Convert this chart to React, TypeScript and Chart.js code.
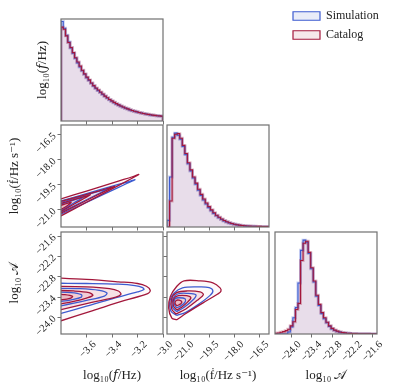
import { useEffect, useRef } from "react";
import { Chart, registerables } from "chart.js";
Chart.register(...registerables);

// ---------------- data ----------------
const fRange = [-3.8, -3.0];
const fdotRange = [-22.03, -15.92];
const ampRange = [-24.49, -21.48];

const fTicks = [-3.6, -3.4, -3.2, -3.0];
const fdotTicks = [-21.0, -19.5, -18.0, -16.5];
const ampTicks = [-24.0, -23.4, -22.8, -22.2, -21.6];

const seriesNames = ["Simulation", "Catalog"];
const axisLabels = ["log₁₀(𝑓/Hz)", "log₁₀(ḟ/Hz s⁻¹)", "log₁₀ 𝒜"];

// normalised histogram heights (fraction of panel height)
const fHistSimulation = [0.975, 0.91, 0.84, 0.775, 0.715, 0.665, 0.615, 0.57, 0.53, 0.492, 0.458, 0.425, 0.397, 0.37, 0.343, 0.318, 0.298, 0.28, 0.26, 0.242, 0.225, 0.208, 0.194, 0.18, 0.167, 0.156, 0.145, 0.135, 0.126, 0.117, 0.109, 0.101, 0.095, 0.089, 0.083, 0.078, 0.073, 0.068, 0.064, 0.06, 0.057, 0.054, 0.051, 0.049, 0.047];
const fHistCatalog = [0.92, 0.9, 0.835, 0.77, 0.72, 0.67, 0.62, 0.578, 0.538, 0.498, 0.462, 0.43, 0.403, 0.373, 0.347, 0.323, 0.304, 0.284, 0.264, 0.244, 0.228, 0.211, 0.197, 0.183, 0.17, 0.158, 0.147, 0.137, 0.128, 0.119, 0.111, 0.103, 0.096, 0.09, 0.084, 0.079, 0.074, 0.069, 0.065, 0.061, 0.058, 0.055, 0.052, 0.05, 0.048];

const fdotHistSimulation = [0.065, 0.49, 0.88, 0.92, 0.9, 0.86, 0.79, 0.71, 0.62, 0.55, 0.48, 0.42, 0.36, 0.31, 0.265, 0.225, 0.19, 0.16, 0.133, 0.11, 0.09, 0.074, 0.06, 0.049, 0.04, 0.032, 0.026, 0.021, 0.017, 0.014, 0.011, 0.009, 0.008, 0.007, 0.006, 0.005, 0.005, 0.004, 0.004, 0.003];
const fdotHistCatalog = [0.0, 0.255, 0.87, 0.91, 0.915, 0.87, 0.8, 0.72, 0.63, 0.56, 0.49, 0.43, 0.37, 0.32, 0.275, 0.235, 0.2, 0.168, 0.14, 0.115, 0.095, 0.078, 0.064, 0.052, 0.042, 0.034, 0.027, 0.022, 0.018, 0.015, 0.012, 0.01, 0.009, 0.008, 0.007, 0.006, 0.006, 0.005, 0.005, 0.004];

const ampHistSimulation = [0.0, 0.0, 0.0, 0.0, 0.0, 0.02, 0.07, 0.16, 0.26, 0.5, 0.82, 0.92, 0.9, 0.79, 0.64, 0.51, 0.37, 0.28, 0.2, 0.15, 0.11, 0.075, 0.05, 0.035, 0.025, 0.018, 0.013, 0.01, 0.008, 0.006, 0.005, 0.004, 0.003, 0.003, 0.002, 0.002, 0.002, 0.001, 0.001, 0.001];
const ampHistCatalog = [0.007, 0.01, 0.017, 0.023, 0.033, 0.046, 0.08, 0.12, 0.24, 0.3, 0.72, 0.89, 0.91, 0.8, 0.65, 0.52, 0.38, 0.29, 0.21, 0.16, 0.115, 0.08, 0.055, 0.038, 0.028, 0.02, 0.015, 0.011, 0.008, 0.006, 0.005, 0.004, 0.003, 0.003, 0.002, 0.002, 0.002, 0.001, 0.001, 0.001];

type Pt = [number, number];

// contour levels, outer to inner: [log10 f, log10 fdot]
const fFdotCatalog: Pt[][] = [
  [[-3.9, -20.59], [-3.7, -20.11], [-3.5, -19.64], [-3.35, -19.28], [-3.24, -19.02], [-3.19, -18.88], [-3.25, -19.14], [-3.4, -19.75], [-3.6, -20.55], [-3.8, -21.36], [-3.9, -21.75]],
  [[-3.9, -20.71], [-3.7, -20.28], [-3.5, -19.86], [-3.41, -19.66], [-3.38, -19.6], [-3.43, -19.79], [-3.6, -20.44], [-3.8, -21.2], [-3.9, -21.58]],
  [[-3.9, -20.85], [-3.7, -20.39], [-3.6, -20.17], [-3.57, -20.1], [-3.62, -20.32], [-3.7, -20.67], [-3.8, -21.1], [-3.9, -21.54]],
  [[-3.9, -20.95], [-3.8, -20.73], [-3.72, -20.55], [-3.8, -20.98], [-3.9, -21.2]],
];
const fFdotSimulation: Pt[][] = [
  [[-3.9, -20.69], [-3.7, -20.25], [-3.5, -19.81], [-3.35, -19.48], [-3.26, -19.29], [-3.22, -19.2], [-3.28, -19.41], [-3.45, -20.02], [-3.65, -20.73], [-3.8, -21.26], [-3.9, -21.61]],
  [[-3.9, -20.77], [-3.7, -20.33], [-3.5, -19.88], [-3.44, -19.75], [-3.41, -19.68], [-3.46, -19.87], [-3.6, -20.4], [-3.8, -21.15], [-3.9, -21.53]],
  [[-3.9, -20.9], [-3.7, -20.42], [-3.62, -20.22], [-3.7, -20.59], [-3.8, -21.06], [-3.9, -21.5]],
];

// [log10 f, log10 A]
const fAmpCatalog: Pt[][] = [
  [[-3.9, -22.82], [-3.6, -22.88], [-3.35, -22.95], [-3.2, -23.0], [-3.13, -23.08], [-3.1, -23.2], [-3.12, -23.3], [-3.3, -23.5], [-3.55, -23.8], [-3.8, -24.1], [-3.9, -24.22]],
  [[-3.9, -23.08], [-3.6, -23.1], [-3.42, -23.15], [-3.35, -23.22], [-3.33, -23.32], [-3.37, -23.4], [-3.55, -23.55], [-3.8, -23.77], [-3.9, -23.85]],
  [[-3.9, -23.2], [-3.7, -23.22], [-3.58, -23.27], [-3.55, -23.35], [-3.6, -23.43], [-3.7, -23.53], [-3.8, -23.6], [-3.9, -23.66]],
  [[-3.9, -23.3], [-3.77, -23.33], [-3.71, -23.38], [-3.73, -23.44], [-3.8, -23.48], [-3.9, -23.51]],
];
const fAmpSimulation: Pt[][] = [
  [[-3.9, -22.99], [-3.6, -23.0], [-3.35, -23.02], [-3.22, -23.06], [-3.16, -23.12], [-3.15, -23.18], [-3.2, -23.25], [-3.4, -23.45], [-3.6, -23.67], [-3.8, -23.88], [-3.9, -23.98]],
  [[-3.9, -23.14], [-3.65, -23.15], [-3.5, -23.2], [-3.44, -23.28], [-3.46, -23.37], [-3.6, -23.5], [-3.8, -23.66], [-3.9, -23.73]],
  [[-3.9, -23.25], [-3.72, -23.27], [-3.64, -23.33], [-3.64, -23.4], [-3.72, -23.48], [-3.8, -23.53], [-3.9, -23.58]],
];

// [log10 fdot, log10 A]
const fdotAmpCatalog: Pt[][] = [
  [[-21.44, -24.07], [-21.74, -24.02], [-21.93, -23.72], [-21.83, -23.38], [-21.44, -23.08], [-21.01, -22.92], [-20.07, -22.92], [-19.28, -22.98], [-18.85, -23.13], [-18.8, -23.23], [-18.99, -23.31], [-19.87, -23.57], [-20.85, -23.87], [-21.44, -24.07]],
  [[-21.5, -23.9], [-21.75, -23.75], [-21.75, -23.45], [-21.45, -23.27], [-20.8, -23.22], [-20.05, -23.25], [-19.85, -23.33], [-20.15, -23.47], [-20.9, -23.75], [-21.5, -23.9]],
  [[-21.45, -23.78], [-21.65, -23.65], [-21.62, -23.45], [-21.35, -23.36], [-20.85, -23.36], [-20.6, -23.42], [-20.8, -23.55], [-21.15, -23.7], [-21.45, -23.78]],
  [[-21.45, -23.66], [-21.55, -23.58], [-21.48, -23.5], [-21.3, -23.49], [-21.15, -23.53], [-21.2, -23.6], [-21.45, -23.66]],
];
const fdotAmpSimulation: Pt[][] = [
  [[-21.44, -23.94], [-21.79, -23.82], [-21.85, -23.5], [-21.6, -23.28], [-21.1, -23.13], [-20.2, -23.1], [-19.5, -23.12], [-19.28, -23.22], [-19.45, -23.35], [-20.1, -23.6], [-20.9, -23.85], [-21.44, -23.94]],
  [[-21.45, -23.83], [-21.7, -23.7], [-21.68, -23.45], [-21.4, -23.31], [-20.8, -23.29], [-20.3, -23.33], [-20.4, -23.45], [-21.0, -23.7], [-21.45, -23.83]],
  [[-21.45, -23.72], [-21.6, -23.6], [-21.55, -23.45], [-21.3, -23.42], [-20.95, -23.45], [-20.95, -23.55], [-21.2, -23.66], [-21.45, -23.72]],
];

// ---------------- style ----------------
const W = 396;
const H = 387;
const SIZE = 102;
const colLeft = [61, 167, 275];
const rowTop = [19, 125, 232];
const BLUE = "#3d5bd0";
const RED = "#a3173b";
const FONT = "'Liberation Serif', 'DejaVu Serif', serif";
const FRAME = "#707070";
const TITLE_SIZE = 13;

const fmt = (v: number) => (v < 0 ? "\u2212" : "") + Math.abs(v).toFixed(1);

function stepPoints(values: number[], range: number[]) {
  const [lo, hi] = range;
  const w = (hi - lo) / values.length;
  const pts = [{ x: lo, y: 0 }];
  values.forEach((v, i) => pts.push({ x: lo + i * w, y: v }));
  pts.push({ x: hi, y: values[values.length - 1] });
  pts.push({ x: hi, y: 0 });
  return pts;
}

function histDatasets(sim: number[], cat: number[], range: number[]) {
  const s = stepPoints(sim, range);
  const c = stepPoints(cat, range);
  const base = { showLine: true, stepped: true, pointRadius: 0, tension: 0 };
  return [
    { ...base, data: c, borderColor: RED, borderWidth: 1.1, fill: false },
    { ...base, data: s, borderColor: BLUE, borderWidth: 1.1, fill: false },
    { ...base, data: c, borderColor: "rgba(163,23,59,0.28)", borderWidth: 3, fill: "origin", backgroundColor: "rgba(163,23,59,0.09)" },
    { ...base, data: s, borderColor: "rgba(61,91,208,0.28)", borderWidth: 3, fill: "origin", backgroundColor: "rgba(61,91,208,0.09)" },
  ];
}

function contourDatasets(cat: Pt[][], sim: Pt[][]) {
  const toXY = (c: Pt[]) => c.map(([x, y]) => ({ x, y }));
  const base = { showLine: true, pointRadius: 0, tension: 0.35 };
  return [
    ...cat.map((c) => ({ ...base, data: toXY(c), borderColor: RED, borderWidth: 1.3, fill: false })),
    ...sim.map((c) => ({ ...base, data: toXY(c), borderColor: BLUE, borderWidth: 1.3, fill: false })),
    ...cat.map((c, i) => ({
      ...base,
      data: toXY(c),
      borderColor: "transparent",
      borderWidth: 1,
      fill: "shape",
      backgroundColor: i === 0 ? "rgba(200,70,100,0.04)" : "rgba(200,70,100,0.13)",
    })),
  ];
}

const framePlugin = {
  id: "frame",
  afterDatasetsDraw(chart: any) {
    const { ctx, chartArea: a } = chart;
    ctx.save();
    ctx.strokeStyle = FRAME;
    ctx.lineWidth = 1.2;
    ctx.strokeRect(a.left, a.top, a.right - a.left, a.bottom - a.top);
    ctx.restore();
  },
};

type PanelSpec = {
  row: number;
  col: number;
  xRange: number[];
  yRange: number[];
  xTicks: number[];
  yTicks: number[];
  yMode: "none" | "title" | "labels" | "marks";
  yTitleX?: number;
  datasets: any[];
};

function panelConfig(p: PanelSpec): any {
  const L = colLeft[p.col];
  const T = rowTop[p.row];
  const R = L + SIZE;
  const B = T + SIZE;
  const bottomRow = p.row === 2;
  const xH = bottomRow ? H - B : 4;
  const yW = p.yMode === "labels" || p.yMode === "title" ? 54 : p.yMode === "marks" ? 4 : 0;
  const tickFont = { family: FONT, size: 10.5 };
  const titleFont = { family: FONT, size: TITLE_SIZE };
  const half = (TITLE_SIZE * 1.2) / 2;
  const gridOpts = { display: true, drawOnChartArea: false, drawTicks: true, tickLength: 3.5, color: FRAME, lineWidth: 1 };
  return {
    type: "scatter",
    data: { datasets: p.datasets },
    plugins: [framePlugin],
    options: {
      responsive: false,
      animation: false,
      events: [],
      layout: { autoPadding: false, padding: { left: L - yW, top: T, right: W - R, bottom: H - B - xH } },
      plugins: { legend: { display: false }, tooltip: { enabled: false } },
      scales: {
        x: {
          type: "linear",
          position: "bottom",
          min: p.xRange[0],
          max: p.xRange[1],
          afterFit: (s: any) => { s.height = xH; },
          afterBuildTicks: (s: any) => { s.ticks = p.xTicks.map((v) => ({ value: v })); },
          grid: gridOpts,
          border: { display: false },
          ticks: {
            display: bottomRow,
            autoSkip: false,
            minRotation: 45,
            maxRotation: 45,
            padding: 1,
            labelOffset: 8,
            font: tickFont,
            color: "#222",
            callback: (v: number) => fmt(v),
          },
          title: {
            display: bottomRow,
            text: axisLabels[p.col],
            font: titleFont,
            color: "#222",
            padding: { top: 0, bottom: 11 - half },
          },
        },
        y: {
          type: "linear",
          position: "left",
          display: p.yMode !== "none",
          min: p.yRange[0],
          max: p.yRange[1],
          afterFit: (s: any) => { s.width = yW; },
          afterBuildTicks: (s: any) => { s.ticks = p.yTicks.map((v) => ({ value: v })); },
          grid: p.yMode === "title" ? { display: false } : gridOpts,
          border: { display: false },
          ticks: {
            display: p.yMode === "labels",
            autoSkip: false,
            minRotation: 45,
            maxRotation: 45,
            padding: 3,
            font: tickFont,
            color: "#222",
            callback: (v: number) => fmt(v),
          },
          title: {
            display: p.yMode === "labels" || p.yMode === "title",
            text: axisLabels[p.row],
            font: titleFont,
            color: "#222",
            padding: { top: (p.yTitleX ?? 15) - (L - yW) - half, bottom: 0 },
          },
        },
      },
    },
  };
}

const panels: PanelSpec[] = [
  { row: 0, col: 0, xRange: fRange, yRange: [0, 1], xTicks: fTicks, yTicks: [], yMode: "title", yTitleX: 43, datasets: histDatasets(fHistSimulation, fHistCatalog, fRange) },
  { row: 1, col: 0, xRange: fRange, yRange: fdotRange, xTicks: fTicks, yTicks: fdotTicks, yMode: "labels", yTitleX: 15, datasets: contourDatasets(fFdotCatalog, fFdotSimulation) },
  { row: 1, col: 1, xRange: fdotRange, yRange: [0, 1], xTicks: fdotTicks, yTicks: [], yMode: "none", datasets: histDatasets(fdotHistSimulation, fdotHistCatalog, fdotRange) },
  { row: 2, col: 0, xRange: fRange, yRange: ampRange, xTicks: fTicks, yTicks: ampTicks, yMode: "labels", yTitleX: 15, datasets: contourDatasets(fAmpCatalog, fAmpSimulation) },
  { row: 2, col: 1, xRange: fdotRange, yRange: ampRange, xTicks: fdotTicks, yTicks: ampTicks, yMode: "marks", datasets: contourDatasets(fdotAmpCatalog, fdotAmpSimulation) },
  { row: 2, col: 2, xRange: ampRange, yRange: [0, 1], xTicks: ampTicks, yTicks: [], yMode: "none", datasets: histDatasets(ampHistSimulation, ampHistCatalog, ampRange) },
];

function legendConfig(): any {
  return {
    type: "line",
    data: {
      labels: [],
      datasets: [
        { label: seriesNames[0], data: [], backgroundColor: "#e9ecf8", borderColor: BLUE, borderWidth: 1.2 },
        { label: seriesNames[1], data: [], backgroundColor: "#f6e7ea", borderColor: RED, borderWidth: 1.2 },
      ],
    },
    options: {
      responsive: false,
      animation: false,
      events: [],
      scales: { x: { display: false }, y: { display: false } },
      plugins: {
        tooltip: { enabled: false },
        legend: {
          position: "top",
          align: "start",
          labels: { boxWidth: 27, boxHeight: 8.5, padding: 7, font: { family: FONT, size: 12 }, color: "#222" },
        },
      },
    },
  };
}

export default function App() {
  const refs = useRef<(HTMLCanvasElement | null)[]>([]);
  const legendRef = useRef<HTMLCanvasElement | null>(null);
  useEffect(() => {
    const charts: Chart[] = [];
    panels.forEach((p, i) => {
      const c = refs.current[i];
      if (c) charts.push(new Chart(c, panelConfig(p)));
    });
    if (legendRef.current) charts.push(new Chart(legendRef.current, legendConfig()));
    return () => charts.forEach((c) => c.destroy());
  }, []);
  return (
    <div style={{ position: "absolute", left: 0, top: 0, width: W, height: H, background: "#fff" }}>
      {panels.map((_, i) => (
        <canvas
          key={i}
          ref={(el) => { refs.current[i] = el; }}
          width={W}
          height={H}
          style={{ position: "absolute", left: 0, top: 0, width: W, height: H }}
        />
      ))}
      <canvas
        ref={legendRef}
        width={110}
        height={110}
        style={{ position: "absolute", left: 286, top: 3, width: 110, height: 110 }}
      />
    </div>
  );
}
